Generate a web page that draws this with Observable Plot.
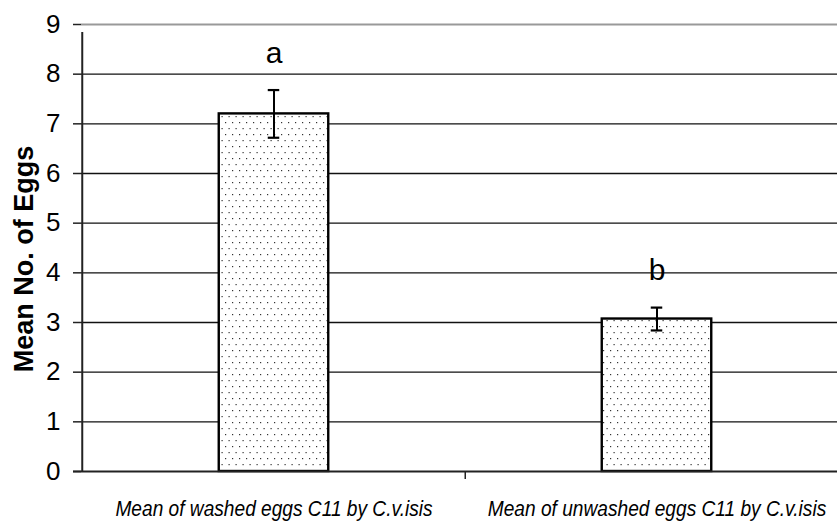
<!DOCTYPE html>
<html>
<head>
<meta charset="utf-8">
<script src="https://cdn.jsdelivr.net/npm/d3@7"></script>
<script src="https://cdn.jsdelivr.net/npm/@observablehq/plot@0.6"></script>
<style>
  html, body { margin: 0; padding: 0; background: #fff; overflow: hidden; }
  #chart svg { display: block; }
</style>
</head>
<body>
<div id="chart"></div>
<script>
const categories = ["Mean of washed eggs C11 by C.v.isis", "Mean of unwashed eggs C11 by C.v.isis"];
const means = [7.2, 3.07];
const errors = [0.48, 0.23];
const letters = ["a", "b"];
const yTicks = [0, 1, 2, 3, 4, 5, 6, 7, 8, 9];

const data = categories.map((c, i) => ({category: c, mean: means[i], err: errors[i], letter: letters[i]}));

const W = 837, H = 523;
const ML = 81, MT = 24, MB = 52;
const xRange = [81, 848];
const bw = (xRange[1] - xRange[0]) / categories.length;
const barW = 110;
const capW = 12;

const defs = () => {
  const g = d3.create("svg:defs");
  const p = g.append("pattern").attr("id", "dots").attr("patternUnits", "userSpaceOnUse")
    .attr("width", 7).attr("height", 12);
  p.append("rect").attr("width", 7).attr("height", 12).attr("fill", "#fff");
  p.append("rect").attr("x", 1).attr("y", 2).attr("width", 1.2).attr("height", 1.2).attr("fill", "#333");
  p.append("rect").attr("x", 4.5).attr("y", 8).attr("width", 1.2).attr("height", 1.2).attr("fill", "#333");
  return g.node();
};

const chart = Plot.plot({
  width: W,
  height: H,
  marginLeft: ML,
  marginRight: 0,
  marginTop: MT,
  marginBottom: MB,
  style: {background: "#fff", fontFamily: "'Liberation Sans', Arial, sans-serif"},
  x: {domain: categories, range: xRange, padding: 0},
  y: {domain: [0, 9], ticks: yTicks},
  marks: [
    defs,
    // gridlines
    Plot.ruleY(yTicks.filter(t => t > 0 && t < 9), {y: d => d, stroke: "#111", strokeWidth: 1.3}),
    Plot.ruleY([9], {y: d => d, stroke: "#999", strokeWidth: 2.2}),
    // bars
    Plot.barY(data, {x: "category", y: "mean", fill: "url(#dots)", stroke: "#000", strokeWidth: 2.4,
      insetLeft: (bw - barW) / 2, insetRight: (bw - barW) / 2}),
    // error bars
    Plot.ruleX(data, {x: "category", y1: d => d.mean - d.err, y2: d => d.mean + d.err, stroke: "#000", strokeWidth: 2}),
    Plot.tickY(data, {x: "category", y: d => d.mean + d.err, stroke: "#000", strokeWidth: 2.2,
      insetLeft: (bw - capW) / 2, insetRight: (bw - capW) / 2}),
    Plot.tickY(data, {x: "category", y: d => d.mean - d.err, stroke: "#000", strokeWidth: 2.2,
      insetLeft: (bw - capW) / 2, insetRight: (bw - capW) / 2}),
    // significance letters
    Plot.text(data, {x: "category", y: d => d.mean + d.err, text: "letter", dy: -37,
      fontSize: 30, fill: "#000", ariaLabel: "letters"}),
    // x axis baseline
    Plot.ruleY([0], {y: d => d, stroke: "#222", strokeWidth: 2, insetLeft: -8}),
    // y axis line (extends below zero)
    Plot.ruleX(categories.slice(0, 1), {x: d => d, y1: 0, y2: 9, dx: -bw / 2, stroke: "#222", strokeWidth: 2, insetBottom: -8}),
    // category boundary tick
    Plot.ruleX(categories.slice(1), {x: d => d, y1: 0, y2: 0, dx: -bw / 2, stroke: "#222", strokeWidth: 1.5, insetBottom: -8}),
    // y axis
    Plot.axisY({ticks: yTicks, tickSize: 8, tickPadding: 13, fontSize: 26, label: null, stroke: "#222", strokeWidth: 1.5, fill: "#000"}),
    Plot.text(["Mean No. of Eggs"], {frameAnchor: "left", text: d => d, rotate: -90, dx: -57, dy: 11,
      textAnchor: "middle", fontSize: 27, fontWeight: "bold", fill: "#000", ariaLabel: "ytitle"}),
    // x axis labels
    Plot.axisX({tickSize: 0, tickPadding: 29, fontSize: 22.5, fontStyle: "italic", label: null, fill: "#000"})
  ]
});

document.getElementById("chart").appendChild(chart);

// condense texts horizontally (narrow typeface look)
function condense(sel, k) {
  d3.select(chart).selectAll(sel).each(function() {
    const len = this.getComputedTextLength();
    d3.select(this).attr("textLength", len * k).attr("lengthAdjust", "spacingAndGlyphs");
  });
}
condense('g[aria-label="x-axis tick label"] text', 0.85);
condense('g[aria-label="letters"] text', 0.78);
d3.select(chart).selectAll('g[aria-label="ytitle"] text').each(function() {
  d3.select(this).attr("textLength", 256).attr("lengthAdjust", "spacingAndGlyphs");
});
</script>
</body>
</html>
